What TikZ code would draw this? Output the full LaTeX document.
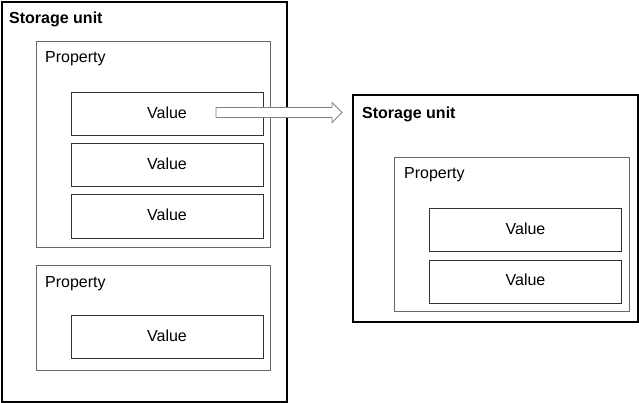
\documentclass[tikz,border=0pt]{standalone}
\usepackage{fontspec}
\setmainfont{Liberation Sans}
\usetikzlibrary{calc}
\definecolor{propgray}{RGB}{105,105,105}
\definecolor{valgray}{RGB}{50,50,50}
\definecolor{arrgray}{RGB}{130,130,130}
\tikzset{
  unitbox/.style={draw, line width=2pt, anchor=north west, inner sep=0},
  propbox/.style={draw=propgray, line width=1.2pt, anchor=north west, inner sep=0},
  valbox/.style={draw=valgray, line width=1pt, inner sep=0, minimum width=192pt, minimum height=43pt, text depth=3pt},
  boxtitle/.style={anchor=base west, inner sep=0},
}
\begin{document}
\begin{tikzpicture}[x=1pt, y=-1pt, font=\fontsize{16}{19}\selectfont]
\useasboundingbox (0,0) rectangle (639,403);
% left storage unit
\node[unitbox, minimum width=285pt, minimum height=400pt] (su1) at (1,1){};
\node[boxtitle, font=\fontsize{16}{19}\selectfont\bfseries] (su1t) at (9,24){Storage unit};
\node[propbox, minimum width=234pt, minimum height=206pt] (p1) at (36,41){};
\node[boxtitle] (p1t) at (45,63){Property};
\node[valbox] (v1) at (167,114){Value};
\node[valbox] (v2) at (167,165.5){Value};
\node[valbox] (v3) at (167,216.5){Value};
\node[propbox, minimum width=234pt, minimum height=105pt] (p2) at (36,265){};
\node[boxtitle] (p2t) at (45,287){Property};
\node[valbox] (v4) at (167,337){Value};
% right storage unit
\node[unitbox, minimum width=285pt, minimum height=227pt] (su2) at (352,94){};
\node[boxtitle, font=\fontsize{16}{19}\selectfont\bfseries] (su2t) at (362,119){Storage unit};
\node[propbox, minimum width=235pt, minimum height=154pt] (p3) at (394,157){};
\node[boxtitle] (p3t) at (404,179){Property};
\node[valbox] (v5) at (525.5,230){Value};
\node[valbox] (v6) at (525.5,281.5){Value};
% copy arrow
\coordinate (arrs) at (216,112.5);
\coordinate (arre) at ([xshift=-10pt]su2.west |- arrs);
\draw[arrgray, fill=white, line width=0.8pt]
  ($(arrs)+(0,-5)$) -- ($(arre)+(-10,-5)$) -- ($(arre)+(-10,-10)$) -- (arre)
  -- ($(arre)+(-10,10)$) -- ($(arre)+(-10,5)$) -- ($(arrs)+(0,5)$) -- cycle;
\end{tikzpicture}
\end{document}
